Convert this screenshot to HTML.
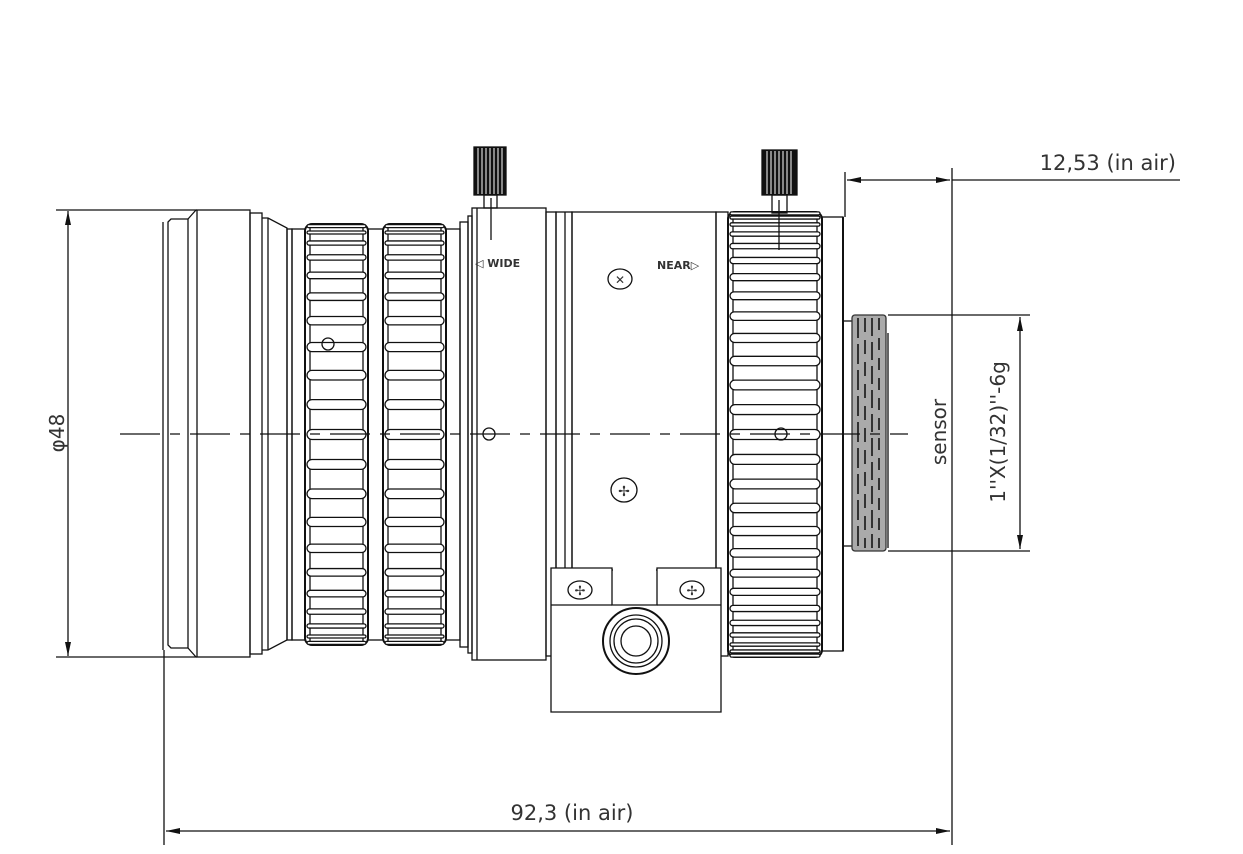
<!DOCTYPE html>
<html><head><meta charset="utf-8"><style>
html,body{margin:0;padding:0;background:#fff;width:1243px;height:854px;overflow:hidden}
svg{display:block}
text{font-family:"DejaVu Sans","Liberation Sans",sans-serif;fill:#333}
</style></head><body>
<svg id="s" width="1243" height="854" viewBox="0 0 1243 854" xmlns="http://www.w3.org/2000/svg" fill="none" stroke="#111" stroke-width="1.3">
<defs>
<marker id="a" markerWidth="14" markerHeight="8" refX="14" refY="4" orient="auto" markerUnits="userSpaceOnUse"><path d="M0,1 L14,4 L0,7Z" fill="#111" stroke="none"/></marker>
<marker id="b" markerWidth="14" markerHeight="8" refX="0" refY="4" orient="auto" markerUnits="userSpaceOnUse"><path d="M14,1 L0,4 L14,7Z" fill="#111" stroke="none"/></marker>
</defs>
<!-- dimensions -->
<line x1="56" y1="210" x2="197" y2="210"/>
<line x1="56" y1="657" x2="197" y2="657"/>
<line x1="68" y1="211" x2="68" y2="656" marker-start="url(#b)" marker-end="url(#a)"/>
<text x="0" y="0" font-size="20" transform="translate(64,433) rotate(-90)" text-anchor="middle" stroke="none">φ48</text>
<line x1="164" y1="650" x2="164" y2="845"/>
<line x1="952" y1="168" x2="952" y2="845"/>
<line x1="166" y1="831" x2="950" y2="831" marker-start="url(#b)" marker-end="url(#a)"/>
<text x="572" y="820" font-size="21" text-anchor="middle" stroke="none">92,3 (in air)</text>
<line x1="845" y1="172" x2="845" y2="217"/>
<line x1="847" y1="180" x2="950" y2="180" marker-start="url(#b)" marker-end="url(#a)"/>
<line x1="952" y1="180" x2="1180" y2="180"/>
<text x="1176" y="170" font-size="21" text-anchor="end" stroke="none">12,53 (in air)</text>
<line x1="888" y1="315" x2="1030" y2="315"/>
<line x1="888" y1="551" x2="1030" y2="551"/>
<line x1="1020" y1="317" x2="1020" y2="549" marker-start="url(#b)" marker-end="url(#a)"/>
<text font-size="20" transform="translate(1005,432) rotate(-90)" text-anchor="middle" stroke="none">1''X(1/32)''-6g</text>
<text font-size="20" transform="translate(946,432) rotate(-90)" text-anchor="middle" stroke="none">sensor</text>
<!-- front -->
<path d="M168,222 L171,219 L188,219 L188,648 L171,648 L168,645Z"/>
<line x1="163" y1="222" x2="163" y2="650"/>
<path d="M188,219 L196,210 M188,648 L196,657"/>
<rect x="197" y="210" width="53" height="447"/>
<rect x="250" y="213" width="12" height="441"/>
<path d="M262,218 L268,218 L287,228 L287,640 L268,650 L262,650"/>
<line x1="268" y1="218" x2="268" y2="650"/>
<rect x="287" y="229" width="5" height="411"/>
<rect x="292" y="229" width="13" height="411"/>
<g id="r1"></g>
<rect x="368" y="229" width="15" height="411"/>
<rect x="446" y="229" width="14" height="411"/>
<rect x="460" y="222" width="8" height="425"/>
<rect x="468" y="216" width="4" height="437"/>
<circle cx="328" cy="344" r="6"/>
<!-- wide ring -->
<rect x="472" y="208" width="74" height="452"/>
<line x1="477" y1="208" x2="477" y2="660"/>
<rect x="474" y="147" width="32" height="48" fill="#111"/>
<g stroke="#fff" stroke-width="1"><line x1="478" y1="148" x2="478" y2="194"/><line x1="482" y1="148" x2="482" y2="194"/><line x1="486" y1="148" x2="486" y2="194"/><line x1="490" y1="148" x2="490" y2="194"/><line x1="494" y1="148" x2="494" y2="194"/><line x1="498" y1="148" x2="498" y2="194"/><line x1="502" y1="148" x2="502" y2="194"/></g>
<rect x="484" y="195" width="13" height="13"/>
<line x1="491" y1="198" x2="491" y2="240"/>
<text x="475" y="267" font-size="11" font-weight="bold" stroke="none" fill="#222">◁ WIDE</text>
<circle cx="489" cy="434" r="6"/>
<rect x="546" y="212" width="10" height="444"/>
<rect x="556" y="212" width="16" height="358"/>
<line x1="565" y1="212" x2="565" y2="570"/>
<rect x="572" y="212" width="144" height="358"/>
<rect x="716" y="212" width="12" height="444"/>
<text x="657" y="269" font-size="11" font-weight="bold" stroke="none" fill="#222">NEAR▷</text>
<ellipse cx="620" cy="279" rx="12" ry="10"/><text x="620" y="284" font-size="12" text-anchor="middle" stroke="none">✕</text>
<ellipse cx="624" cy="490" rx="13" ry="12"/><text x="624" y="496" font-size="14" text-anchor="middle" stroke="none">✢</text>
<!-- block -->
<rect x="613" y="566" width="43" height="38" fill="#fff" stroke="none"/>
<path d="M551,568 L612,568 L612,605 L657,605 L657,568 L721,568 L721,712 L551,712Z" fill="#fff"/>
<line x1="551" y1="605" x2="612" y2="605"/><line x1="657" y1="605" x2="721" y2="605"/>
<ellipse cx="580" cy="590" rx="12" ry="9"/><text x="580" y="595" font-size="13" text-anchor="middle" stroke="none">✢</text>
<ellipse cx="692" cy="590" rx="12" ry="9"/><text x="692" y="595" font-size="13" text-anchor="middle" stroke="none">✢</text>
<circle cx="636" cy="641" r="33" stroke-width="2"/><circle cx="636" cy="641" r="26"/><circle cx="636" cy="641" r="22"/><circle cx="636" cy="641" r="15"/>
<!-- focus ring -->
<g id="r3"></g>
<rect x="822" y="217" width="21" height="434"/>
<line x1="843" y1="217" x2="843" y2="651" stroke-width="2"/>
<rect x="762" y="150" width="35" height="45" fill="#111"/>
<g stroke="#fff" stroke-width="1"><line x1="767" y1="151" x2="767" y2="194"/><line x1="771" y1="151" x2="771" y2="194"/><line x1="775" y1="151" x2="775" y2="194"/><line x1="779" y1="151" x2="779" y2="194"/><line x1="783" y1="151" x2="783" y2="194"/><line x1="787" y1="151" x2="787" y2="194"/><line x1="791" y1="151" x2="791" y2="194"/></g>
<rect x="772" y="195" width="15" height="18"/>
<line x1="779" y1="200" x2="779" y2="250"/>
<circle cx="781" cy="434" r="6"/>
<!-- mount -->
<line x1="843" y1="321" x2="852" y2="321"/><line x1="843" y1="546" x2="852" y2="546"/>
<rect x="852" y="315" width="34" height="236" fill="#aaa" stroke="#333" rx="3"/>
<g stroke="#333" stroke-width="2"><line x1="858" y1="318" x2="858" y2="548" stroke-dasharray="20 6"/><line x1="865" y1="318" x2="865" y2="548" stroke-dasharray="14 8"/><line x1="872" y1="318" x2="872" y2="548" stroke-dasharray="18 6"/><line x1="879" y1="318" x2="879" y2="548" stroke-dasharray="12 8"/></g>
<line x1="888" y1="333" x2="888" y2="548"/>
<!-- axis -->
<line x1="120" y1="434" x2="908" y2="434" stroke-dasharray="40 10 10 10"/>
</svg>
<script>
function knurl(gid,x,w,top,bot,n){
  var g=document.getElementById(gid),cy=(top+bot)/2,R=(bot-top)/2,s='';
  s+='<rect x="'+x+'" y="'+top+'" width="'+w+'" height="'+(bot-top)+'" rx="7" stroke-width="2"/>';
  s+='<line x1="'+(x+5)+'" y1="'+(top+3)+'" x2="'+(x+5)+'" y2="'+(bot-3)+'"/>';
  s+='<line x1="'+(x+w-5)+'" y1="'+(top+3)+'" x2="'+(x+w-5)+'" y2="'+(bot-3)+'"/>';
  for(var i=1;i<n;i++){
    var t=-Math.PI/2+Math.PI*i/n, y=cy+R*Math.sin(t), h=Math.max(3,10*Math.cos(t));
    s+='<rect x="'+(x+2)+'" y="'+(y-h/2)+'" width="'+(w-4)+'" height="'+h+'" rx="'+(h/2)+'" fill="#fff"/>';
  }
  g.innerHTML=s;
}
knurl('r1',305,63,224,645,22);
var g=document.getElementById('r1');var h=g.innerHTML;
knurl('r1',383,63,224,645,22);g.innerHTML=h+g.innerHTML;
knurl('r3',728,94,212,657,28);
</script>
</body></html>
